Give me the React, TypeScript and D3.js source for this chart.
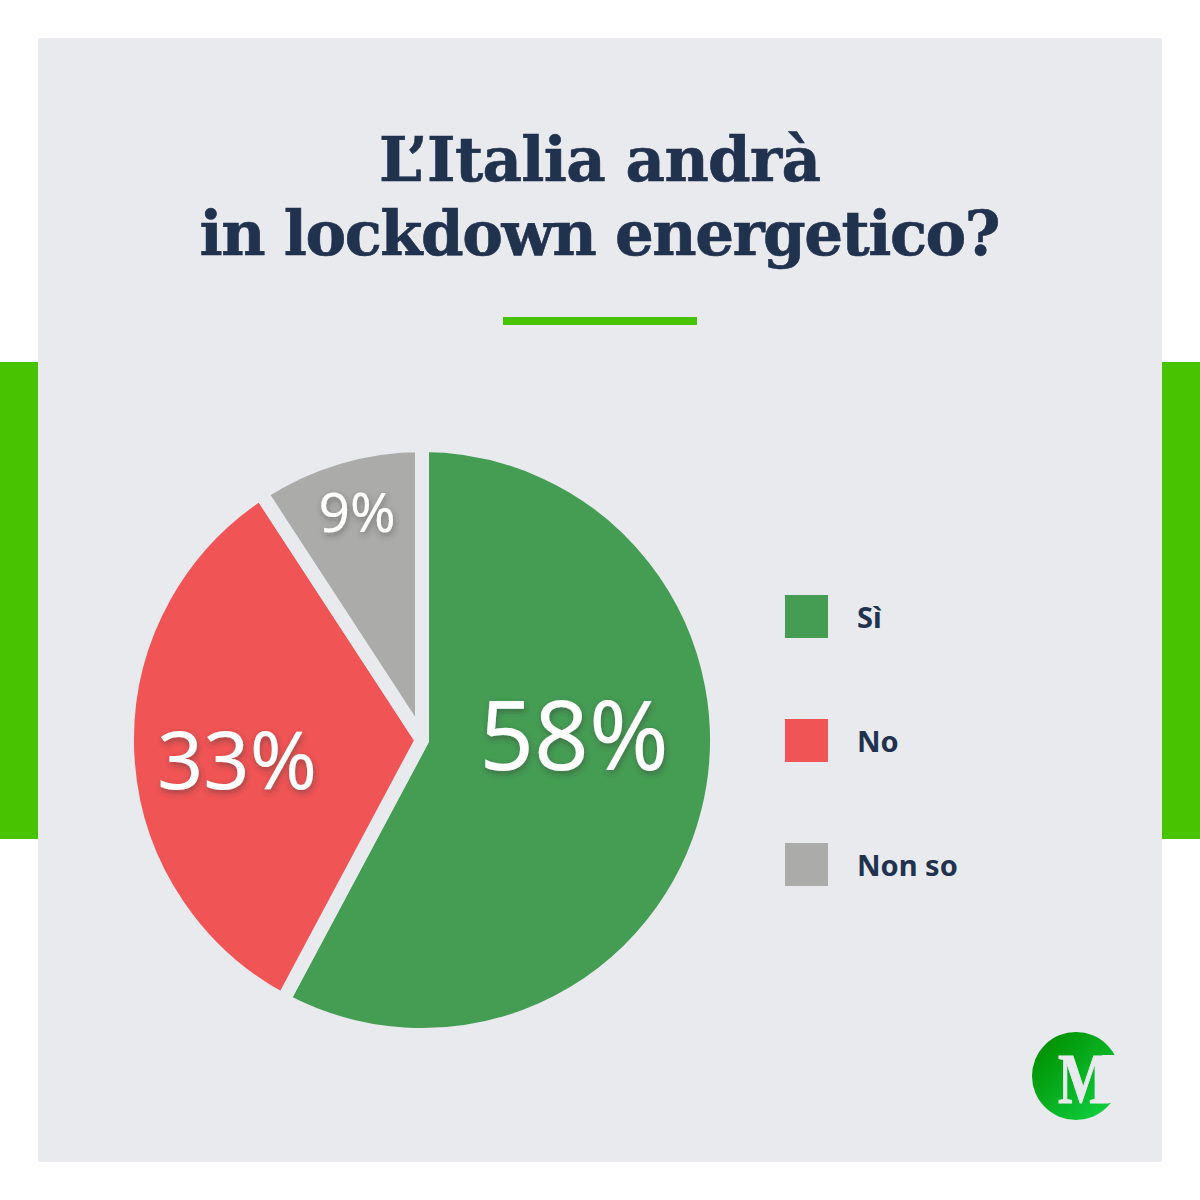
import * as d3 from 'd3'

const categories = ['Sì', 'No', 'Non so']
// slice shares, the labels show them rounded
const values = [57.8, 33, 9.2]
const colors = ['#459D54', '#F15454', '#ABABA9']
const titleLines = ['L’Italia andrà', 'in lockdown energetico?']
const titleWidths = [442, 801]

const bg = '#E8EAEE'
const navy = '#21324F'
const green = '#47C300'
const labelFont = '"Noto Sans", sans-serif'
const titleFont = '"DejaVu Serif", serif'

// label position and size were picked by eye for each slice
const labelSpots = [
  { x: 152, y: 30, size: 96 },
  { x: -185, y: 49, size: 81 },
  { x: -65, y: -208, size: 55 },
]

export default function App() {
  const cx = 422
  const cy = 740
  // the bg stroke eats 7px, so visible radius is 288
  const radius = 295

  const pie = d3.pie<number>().sort(null)
  const arc = d3.arc<d3.PieArcDatum<number>>().innerRadius(0).outerRadius(radius)
  const slices = pie(values)

  const legendY = d3.scalePoint<string>().domain(categories).range([616, 864])

  return (
    <svg
      width={1200}
      height={1200}
      viewBox="0 0 1200 1200"
      style={{ position: 'absolute', top: 0, left: 0, background: '#fff' }}
    >
      <defs>
        <filter id="soft" x="-20%" y="-20%" width="140%" height="140%">
          <feDropShadow dx="1" dy="3" stdDeviation="3" floodColor="#333" floodOpacity="0.45" />
        </filter>
        <linearGradient id="logo" x1="0" y1="0" x2="1" y2="1">
          <stop offset="0.1" stopColor="#008F00" />
          <stop offset="0.9" stopColor="#10D040" />
        </linearGradient>
      </defs>

      <rect x={0} y={362} width={1200} height={477} fill={green} />
      <rect x={38} y={38} width={1124} height={1124} fill={bg} />

      {titleLines.map((line, i) => (
        <text
          key={line}
          x={600}
          y={181 + i * 74}
          textAnchor="middle"
          textLength={titleWidths[i]}
          lengthAdjust="spacing"
          fontFamily={titleFont}
          fontWeight={700}
          fontSize={61}
          fill={navy}
          stroke={navy}
          strokeWidth={0.6}
        >
          {line}
        </text>
      ))}
      <rect x={503} y={317} width={194} height={8} fill={green} />

      <g transform={`translate(${cx},${cy})`}>
        {slices.map((s, i) => (
          <path key={categories[i]} d={arc(s) ?? ''} fill={colors[i]} stroke={bg} strokeWidth={14} strokeLinejoin="round" />
        ))}
        {slices.map((s, i) => (
          <text
            key={categories[i]}
            x={labelSpots[i].x}
            y={labelSpots[i].y}
            textAnchor="middle"
            fontFamily={labelFont}
            fontSize={labelSpots[i].size}
            fill="#fff"
            filter="url(#soft)"
          >
            {Math.round(s.data)}%
          </text>
        ))}
      </g>

      {categories.map((c, i) => (
        <g key={c}>
          <rect x={785} y={(legendY(c) ?? 0) - 21} width={43} height={43} fill={colors[i]} />
          <text
            x={857}
            y={(legendY(c) ?? 0) + 12}
            fontFamily={labelFont}
            fontWeight={700}
            fontSize={29}
            fill={navy}
          >
            {c}
          </text>
        </g>
      ))}

      {/* logo */}
      <circle cx={1076} cy={1076} r={44} fill="url(#logo)" />
      <rect x={1102} y={1055} width={22} height={48} fill={bg} />
      <text
        transform="translate(1058,1103) scale(0.76,1)"
        fontFamily='"Liberation Serif", serif'
        fontWeight={700}
        fontSize={72}
        fill={bg}
        stroke={bg}
        strokeWidth={1}
      >
        M
      </text>
    </svg>
  )
}
